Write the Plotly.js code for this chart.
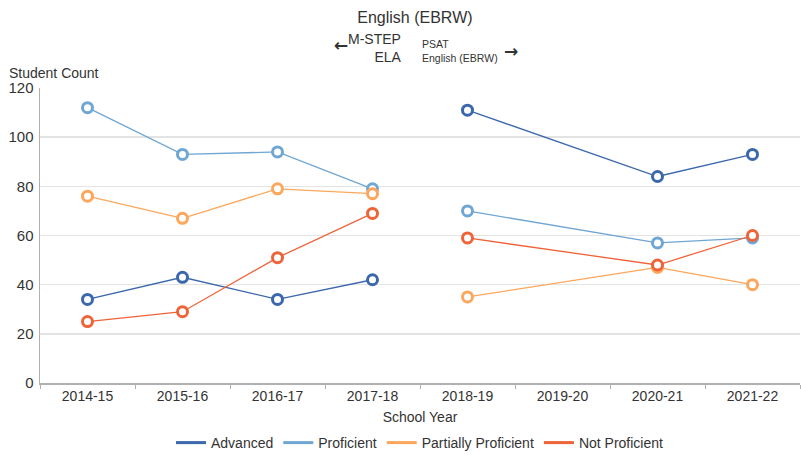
<!DOCTYPE html>
<html>
<head>
<meta charset="utf-8">
<script src="https://cdn.plot.ly/plotly-3.0.1.min.js"></script>
<style>html,body{margin:0;padding:0;background:#fff;}#chart{width:801px;height:455px;}</style>
</head>
<body>
<div id="chart"></div>
<script>
const years = ["2014-15","2015-16","2016-17","2017-18","2018-19","2019-20","2020-21","2021-22"];
const seriesNames = ["Advanced","Proficient","Partially Proficient","Not Proficient"];
const advanced = [34,43,34,42,111,null,84,93];
const proficient = [112,93,94,79,70,null,57,59];
const partiallyProficient = [76,67,79,77,35,null,47,40];
const notProficient = [25,29,51,69,59,null,48,60];
const colors = ["#3b67ad","#6fa6d3","#fca75b","#ef6339"];
const splitIndex = 4; // M-STEP years before, PSAT years from here

const allSeries = [advanced, proficient, partiallyProficient, notProficient];
const traces = [];
allSeries.forEach((vals, i) => {
  const left = vals.map((v, j) => j < splitIndex ? v : null);
  const right = vals.map((v, j) => j >= splitIndex ? v : null);
  [left, right].forEach(part => {
    traces.push({
      x: years, y: part, type: "scatter", mode: "lines+markers",
      connectgaps: part === right,
      line: {color: colors[i], width: 1.3},
      marker: {symbol: "circle", size: 10, color: "#ffffff", line: {color: colors[i], width: 3}},
      showlegend: false, hoverinfo: "x+y", name: seriesNames[i]
    });
  });
});
seriesNames.forEach((n, i) => {
  traces.push({x: [null], y: [null], type: "scatter", mode: "lines", name: n,
    line: {color: colors[i], width: 3}, showlegend: true});
});

const px = x => (x - 40) / 760;
const py = y => (383 - y) / 295;
const txt = "#333333";
const layout = {
  width: 801, height: 455,
  margin: {l: 40, r: 1, t: 88, b: 72},
  paper_bgcolor: "#ffffff", plot_bgcolor: "#ffffff",
  font: {family: "Liberation Sans, Arial, sans-serif", color: txt, size: 14},
  title: {text: "English (EBRW)", x: 0.518, xanchor: "center", y: 1 - 17/455, yanchor: "middle",
    font: {size: 16, color: txt}},
  xaxis: {
    type: "category", categoryarray: years, range: [-0.5, 7.5],
    showgrid: false, showline: true, linecolor: "#b0b0b0", linewidth: 1.5,
    ticks: "outside", tickson: "boundaries", ticklen: 4, tickcolor: "#b0b0b0",
    tickfont: {size: 14, color: txt},
    title: {text: "School Year", font: {size: 14, color: txt}, standoff: 9},
    zeroline: false, automargin: false
  },
  yaxis: {
    range: [0, 120], dtick: 20, showgrid: true, gridcolor: "#e3e3e3", gridwidth: 1.5,
    showline: true, linecolor: "#b0b0b0", linewidth: 1.5, zeroline: false,
    ticks: "", tickfont: {size: 15, color: txt}, ticklabelstandoff: 2, automargin: false
  },
  legend: {orientation: "h", x: 0.5, xanchor: "center", xref: "paper",
    yref: "container", y: 1 - 443/455, yanchor: "middle",
    font: {size: 14, color: txt}, itemwidth: 30, tracegroupgap: 0},
  showlegend: true,
  annotations: [
    {xref: "paper", yref: "paper", x: px(7), y: py(73), xanchor: "left", yanchor: "middle",
      text: "Student Count", showarrow: false, font: {size: 14, color: txt}},
    {xref: "paper", yref: "paper", x: px(404), y: py(48), xanchor: "right", yanchor: "middle", align: "right",
      text: "M-STEP<br>ELA", showarrow: false, font: {size: 14, color: txt}},
    {xref: "paper", yref: "paper", x: px(332), y: py(45), xanchor: "left", yanchor: "middle",
      text: "<b>←</b>", showarrow: false, font: {size: 17, color: txt, family: "DejaVu Sans"}},
    {xref: "paper", yref: "paper", x: px(420), y: py(51), xanchor: "left", yanchor: "middle", align: "left",
      text: "PSAT<br>English (EBRW)", showarrow: false, font: {size: 10.5, color: txt}},
    {xref: "paper", yref: "paper", x: px(502), y: py(51), xanchor: "left", yanchor: "middle",
      text: "<b>→</b>", showarrow: false, font: {size: 17, color: txt, family: "DejaVu Sans"}}
  ]
};
Plotly.newPlot("chart", traces, layout, {displayModeBar: false, staticPlot: true});
</script>
</body>
</html>
